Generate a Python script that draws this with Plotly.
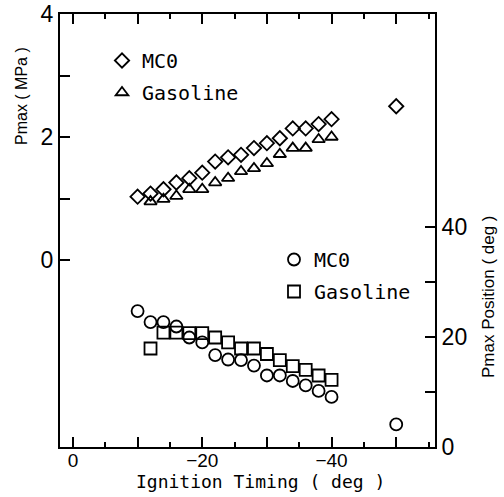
import plotly.graph_objects as go

# ---- data ----
timing_mc0 = [-10, -12, -14, -16, -18, -20, -22, -24, -26, -28, -30, -32, -34, -36, -38, -40, -50]
pmax_mc0 = [1.03, 1.08, 1.15, 1.26, 1.33, 1.42, 1.60, 1.67, 1.71, 1.82, 1.90, 1.98, 2.14, 2.14, 2.21, 2.29, 2.50]
pos_mc0 = [24.7, 22.7, 22.7, 21.9, 19.9, 19.0, 16.7, 15.9, 15.8, 14.8, 13.0, 13.0, 12.0, 11.2, 10.2, 9.1, 4.1]

timing_gas = [-12, -14, -16, -18, -20, -22, -24, -26, -28, -30, -32, -34, -36, -38, -40]
pmax_gas = [0.95, 0.99, 1.04, 1.15, 1.15, 1.26, 1.33, 1.44, 1.49, 1.57, 1.72, 1.82, 1.82, 1.96, 2.00]
pos_gas = [17.9, 20.8, 20.8, 20.7, 20.7, 19.9, 19.0, 17.9, 17.9, 16.9, 15.8, 14.7, 14.0, 13.0, 12.2]

x_tickvals = [0, -10, -20, -30, -40, -50]
x_ticktext = ["0", "", "\u221220", "", "\u221240", ""]
y1_tickvals = [0, 1, 2, 3, 4]
y1_ticktext = ["0", "", "2", "", "4"]
y2_tickvals = [0, 10, 20, 30, 40]
y2_ticktext = ["0", "", "20", "", "40"]

# ---- layout geometry (pixels) ----
W, H = 504, 497
PL, PR, PT, PB = 60, 435, 14, 447   # plot area
L, T, R, B = PL, PT, W - PR, H - PB
pw, ph = PR - PL, PB - PT

def px(xp):
    return (xp - PL) / pw

def py(yp):
    return 1 - (yp - PT) / ph

mono = "DejaVu Sans Mono"
sans = "Liberation Sans"
lw = 1.8

fig = go.Figure()
fig.add_trace(go.Scatter(x=timing_mc0, y=pmax_mc0, mode="markers", name="MC0",
                         marker=dict(symbol="diamond-open", size=11, color="black", line=dict(width=lw)),
                         legend="legend", legendgroup="a", yaxis="y"))
fig.add_trace(go.Scatter(x=timing_gas, y=pmax_gas, mode="markers", name="Gasoline",
                         marker=dict(symbol="triangle-up-open", size=11, color="black", line=dict(width=lw)),
                         legend="legend", legendgroup="b", yaxis="y"))
fig.add_trace(go.Scatter(x=timing_mc0, y=pos_mc0, mode="markers", name="MC0",
                         marker=dict(symbol="circle-open", size=12, color="black", line=dict(width=lw)),
                         legend="legend2", legendgroup="c", yaxis="y2"))
fig.add_trace(go.Scatter(x=timing_gas, y=pos_gas, mode="markers", name="Gasoline",
                         marker=dict(symbol="square-open", size=12, color="black", line=dict(width=lw)),
                         legend="legend2", legendgroup="d", yaxis="y2"))

fig.update_layout(
    width=W, height=H,
    margin=dict(l=L, r=R, t=T, b=B, pad=0, autoexpand=False),
    paper_bgcolor="white", plot_bgcolor="white",
    showlegend=True,
    legend=dict(x=px(102), y=py(41), xanchor="left", yanchor="top",
                font=dict(family=mono, size=20, color="black"),
                bgcolor="rgba(0,0,0,0)", itemwidth=30, itemsizing="trace",
                tracegroupgap=3),
    legend2=dict(x=px(274), y=py(240), xanchor="left", yanchor="top",
                 font=dict(family=mono, size=20, color="black"),
                 bgcolor="rgba(0,0,0,0)", itemwidth=30, itemsizing="trace",
                 tracegroupgap=3),
    xaxis=dict(range=[2, -56], showgrid=False, zeroline=False, automargin=False,
               showline=True, linecolor="black", linewidth=2, mirror="ticks",
               ticks="inside", ticklen=10, tickwidth=1.5, tickcolor="black",
               tickvals=x_tickvals, ticktext=x_ticktext, ticklabelstandoff=-5,
               minor=dict(dtick=5, tick0=0, ticks="inside", ticklen=5, tickwidth=1.5, tickcolor="black", showgrid=False),
               tickfont=dict(family=sans, size=19, color="black")),
    yaxis=dict(range=[-3.04, 4], showgrid=False, zeroline=False, automargin=False,
               showline=True, linecolor="black", linewidth=2,
               ticks="inside", ticklen=10, tickwidth=1.5, tickcolor="black",
               tickvals=y1_tickvals, ticktext=y1_ticktext, ticklabeloverflow="allow",
               tickfont=dict(family=sans, size=23, color="black")),
    yaxis2=dict(range=[0, 78.7], overlaying="y", side="right", showgrid=False, zeroline=False,
                automargin=False,
                showline=True, linecolor="black", linewidth=2,
                ticks="inside", ticklen=10, tickwidth=1.5, tickcolor="black",
                tickvals=y2_tickvals, ticktext=y2_ticktext,
                tickfont=dict(family=sans, size=23, color="black")),
    annotations=[
        dict(text="Pmax ( MPa )", xref="paper", yref="paper", x=px(21), y=py(96),
             textangle=-90, showarrow=False, xanchor="center", yanchor="middle",
             font=dict(family=sans, size=16, color="black")),
        dict(text="Pmax Position ( deg )", xref="paper", yref="paper", x=px(488), y=py(297),
             textangle=-90, showarrow=False, xanchor="center", yanchor="middle",
             font=dict(family=sans, size=17, color="black")),
        dict(text="Ignition Timing ( deg )", xref="paper", yref="paper", x=px(260), y=py(481),
             showarrow=False, xanchor="center", yanchor="middle",
             font=dict(family=mono, size=18, color="black")),
    ],
)

fig.write_html("out.html", post_script="document.body.style.margin='0';",
               config={"displayModeBar": False})
